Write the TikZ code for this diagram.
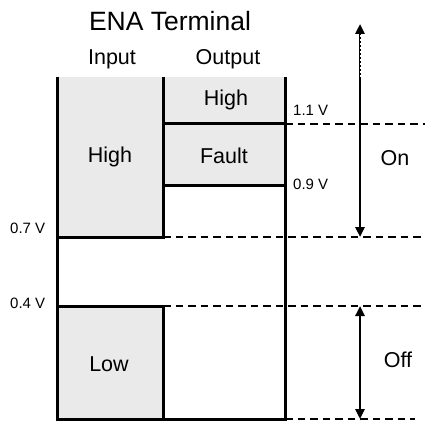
\documentclass[tikz,border=0pt]{standalone}
\usepackage{fontspec}
\setmainfont{Liberation Sans}
\usetikzlibrary{positioning,arrows.meta}

\begin{document}
\begin{tikzpicture}[x=1pt,y=-1pt,every node/.style={font=\fontsize{21.5}{24}\selectfont}]
	% Define colors
	\definecolor{cell_bg}{RGB}{234, 234, 234}

	% Styles
	\tikzstyle{cell_fill} = [fill=cell_bg]
	\tikzstyle{rail} = [line width=3pt, black]
	\tikzstyle{level_line} = [line width=1.8pt, dash pattern=on 7.5pt off 5pt]
	\tikzstyle{volt_label} = [font=\fontsize{15}{17}\selectfont, inner sep=0pt, anchor=base west]
	\tikzstyle{range_arrow} = [line width=2.4pt, {Triangle[length=10pt,width=9pt]}-{Triangle[length=10pt,width=9pt]}]

	\useasboundingbox (0,0) rectangle (425,422);

	% Column X positions
	\def\colin{57}
	\def\colmid{163}
	\def\colout{285}
	\def\colarr{360}
	% Level Y positions
	\def\ytop{77}
	\def\yhi{124}
	\def\yfault{185}
	\def\yon{237}
	\def\yoff{306}
	\def\ybot{419}

	% Grey cells
	\fill[cell_fill] (\colin,\ytop) rectangle (\colmid,\yon);
	\fill[cell_fill] (\colmid,\ytop) rectangle (\colout,\yfault);
	\fill[cell_fill] (\colin,\yoff) rectangle (\colmid,\ybot);

	% Corner points
	\coordinate (inTop) at (\colin,\ytop);
	\coordinate (inOn) at (\colin,\yon);
	\coordinate (inOff) at (\colin,\yoff);
	\coordinate (inBot) at (\colin,\ybot);
	\coordinate (midTop) at (\colmid,\ytop);
	\coordinate (midHi) at (\colmid,\yhi);
	\coordinate (midFault) at (\colmid,\yfault);
	\coordinate (midOn) at (\colmid,\yon);
	\coordinate (midOff) at (\colmid,\yoff);
	\coordinate (midBot) at (\colmid,\ybot);
	\coordinate (outTop) at (\colout,\ytop);
	\coordinate (outHi) at (\colout,\yhi);
	\coordinate (outFault) at (\colout,\yfault);
	\coordinate (outBot) at (\colout,\ybot);
	\coordinate (edgeHi) at (425,\yhi);
	\coordinate (edgeOn) at (425,\yon);
	\coordinate (edgeOff) at (425,\yoff);
	\coordinate (edgeBot) at (415,\ybot);
	\coordinate (onTip) at (\colarr,24);
	\coordinate (onDot) at (\colarr,35);
	\coordinate (onTop) at (\colarr,\ytop);
	\coordinate (onBot) at (\colarr,\yon);
	\coordinate (offTop) at (\colarr,\yoff);
	\coordinate (offBot) at (\colarr,\ybot);

	% Threshold lines
	\draw[level_line] (outHi) -- (edgeHi);
	\draw[level_line] (midOn) -- (edgeOn);
	\draw[level_line] (midOff) -- (edgeOff);
	\draw[level_line] (outBot) -- (edgeBot);

	% Column walls
	\draw[rail] (inTop) -- (inBot) -- (outBot) -- (outTop);
	\draw[rail] (midTop) -- (midOn) -- (inOn);
	\draw[rail] (inOff) -- (midOff) -- (midBot);
	\draw[rail] (midHi) -- (outHi);
	\draw[rail] (midFault) -- (outFault);

	% Range arrows
	\draw[range_arrow] (onTip) -- (onBot);
	\draw[white, line width=0.8pt, dash pattern=on 2pt off 2pt] (onDot) -- (onTop);
	\draw[range_arrow] (offTop) -- (offBot);

	% Headings
	\node (title) at (170,21) {\fontsize{26.5}{29}\selectfont ENA Terminal};
	\node (input) at (112,59) {Input};
	\node (output) at (228,59) {Output};

	% Cell texts
	\node (inHigh) at (110,157) {High};
	\node (outHigh) at (226,100) {High};
	\node (fault) at (224,156) {Fault};
	\node (low) at (109,364) {Low};
	\node (on) at (395,158) {On};
	\node (off) at (398,360) {Off};

	% Voltage labels
	\node[volt_label] (vHi) at (293,116) {1.1 V};
	\node[volt_label] (vFault) at (293,189) {0.9 V};
	\node[volt_label] (vOn) at (10,233) {0.7 V};
	\node[volt_label] (vOff) at (10,308) {0.4 V};

\end{tikzpicture}
\end{document}
